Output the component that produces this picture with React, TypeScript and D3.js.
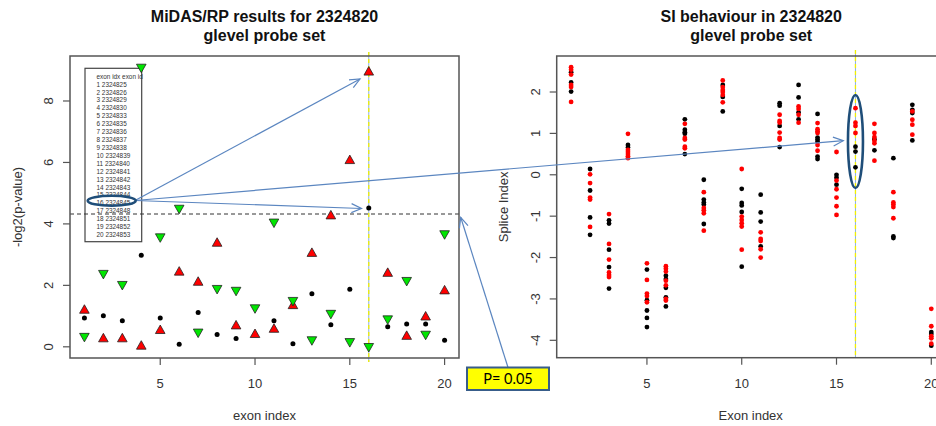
import React from "react";
import * as d3 from "d3";

// ---------- Left panel data (-log2 p-values per exon) ----------
const exons = d3.range(1, 21);
const upRed = [1.2, 0.27, 0.27, 0.03, 0.54, 2.44, 2.11, 3.38, 0.69, 0.41, 0.58, 1.35, 3.05, 4.27, 6.07, 8.95, 2.4, 0.35, 0.98, 1.83];
const downGreen = [0.33, 2.38, 2.02, 9.09, 3.57, 4.5, 0.47, 1.89, 1.83, 1.26, 4.05, 1.5, 0.22, 1.08, 0.16, 0.0, 0.9, 2.15, 0.4, 3.67];
const blackDots: (number | null)[] = [0.94, 1.01, 0.85, 2.98, 0.94, 0.08, 1.12, 0.4, 0.27, null, 0.85, 0.1, 1.73, 0.72, 1.87, 4.52, 0.65, 0.74, 0.74, 0.21];
const legendIds = ["2324825", "2324826", "2324829", "2324830", "2324833", "2324835", "2324836", "2324837", "2324838", "2324839", "2324840", "2324841", "2324842", "2324843", "2324844", "2324845", "2324848", "2324851", "2324852", "2324853"];
const pThreshold = 0.05;
const highlightExon = 16;
const leftYTicks = [0, 2, 4, 6, 8];
const xTicks = [5, 10, 15, 20];

// ---------- Right panel data (splice index per exon) ----------
const siRed: number[][] = [
  [2.6, 2.54, 2.42, 2.17, 2.12, 1.76],
  [0.01, -0.2, -0.55, -0.6, -1.26],
  [-0.95, -1.67, -2.05, -2.36, -2.42, -2.47],
  [0.99, 0.6, 0.55, 0.5, 0.45, 0.4],
  [-2.14, -2.54, -2.87, -2.93, -3.08],
  [-2.21, -2.27, -2.34, -2.56, -2.67, -3.0, -3.04],
  [1.23, 0.89, 0.85, 0.68, 0.64],
  [-0.42, -0.8, -0.86, -0.93, -1.35],
  [2.28, 2.12, 2.05, 2.0, 1.93, 1.75],
  [0.14, -1.01, -1.09, -1.17, -1.25, -1.81],
  [-1.39, -1.55, -1.6, -1.8, -2.0],
  [1.45, 1.3, 1.26, 1.02, 0.89, 0.85],
  [1.65, 1.59, 1.45, 1.26],
  [1.25, 1.1, 1.05, 1.01, 0.72, 0.58],
  [0.55, -0.14, -0.35, -0.55, -0.76, -0.97],
  [1.61, 1.26, 1.18, 1.01],
  [1.23, 1.01, 0.91, 0.82, 0.76, 0.34],
  [-0.42, -0.67, -0.72, -0.78, -1.05],
  [1.53, 1.33, 1.21, 0.97],
  [-3.24, -3.66, -3.9, -3.95, -4.08],
];
const siBlack: number[][] = [
  [2.48, 2.23, 2.01],
  [0.14, -0.38, -1.03, -1.45],
  [-1.1, -1.18, -1.81, -2.23, -2.75],
  [0.72, 0.66],
  [-2.29, -3.03, -3.28, -3.46, -3.68],
  [-2.44, -2.52, -2.73, -2.96, -3.18],
  [1.34, 1.09, 1.03, 0.99, 0.5],
  [-0.12, -0.6, -0.67, -0.72, -1.19],
  [2.17, 1.88, 1.53],
  [-0.34, -0.68, -0.74, -0.9, -2.22],
  [-0.48, -0.91, -1.13, -1.73],
  [1.73, 1.67, 1.18, 0.67],
  [2.17, 1.87, 1.51, 1.34],
  [1.47, 0.9, 0.85, 0.8, 0.44, 0.38],
  [0.0, -0.07, -0.24],
  [0.68, 0.56, 0.18],
  [0.86, 0.59],
  [0.4, -1.49, -1.53],
  [1.69, 1.57, 1.49, 0.83],
  [-3.8, -3.85, -4.13],
];
const rightYTicks = [-4, -3, -2, -1, 0, 1, 2];

const FONT = "'Liberation Sans', Arial, Helvetica, sans-serif";
const AXIS = "#555";
const TXT = "#333";
const ARROW = "#5b86c0";
const DARKBLUE = "#1f4e79";

function arrowHead(x1: number, y1: number, x2: number, y2: number, len = 11, ang = 0.42) {
  const a = Math.atan2(y2 - y1, x2 - x1);
  const p1 = [x2 - len * Math.cos(a - ang), y2 - len * Math.sin(a - ang)];
  const p2 = [x2 - len * Math.cos(a + ang), y2 - len * Math.sin(a + ang)];
  return `M${p1[0]},${p1[1]}L${x2},${y2}L${p2[0]},${p2[1]}`;
}

function Arrow({ x1, y1, x2, y2 }: { x1: number; y1: number; x2: number; y2: number }) {
  return (
    <g stroke={ARROW} strokeWidth={1.2} fill="none">
      <line x1={x1} y1={y1} x2={x2} y2={y2} />
      <path d={arrowHead(x1, y1, x2, y2)} />
    </g>
  );
}

export default function App() {
  // Left panel scales
  const L = { left: 70, right: 459, top: 56, bottom: 358 };
  const xL = d3.scaleLinear().domain([0.24, 20.76]).range([L.left, L.right]);
  const yL = d3.scaleLinear().domain([-0.364, 9.464]).range([L.bottom, L.top]);
  // Right panel scales
  const R = { left: 556.7, right: 945.7, top: 56, bottom: 357.7 };
  const xR = d3.scaleLinear().domain([0.24, 20.76]).range([R.left, R.right]);
  const yR = d3.scaleLinear().domain([-4.42, 2.87]).range([R.bottom, R.top]);

  const tw = 4.8, th1 = 5.2, th2 = 3.3;
  const upPath = (x: number, y: number) => `M${x},${y - th1}L${x + tw},${y + th2}L${x - tw},${y + th2}Z`;
  const downPath = (x: number, y: number) => `M${x},${y + th1}L${x + tw},${y - th2}L${x - tw},${y - th2}Z`;

  const pLine = yL(-Math.log2(pThreshold));
  const legX = 85, legY = 68.3, legW = 56.7, legH = 173.4;
  const rowY = (i: number) => 84.3 + i * 7.92;

  const ellL = { cx: 111.7, cy: 200.7, rx: 24, ry: 5 };
  const ellR = { cx: xR(highlightExon), cy: 141.5, rx: 7.5, ry: 46.5 };
  const start = { x: 135, y: 200.5 };

  return (
    <svg
      width={936}
      height={426}
      style={{ position: "absolute", left: 0, top: 0, background: "#fff" }}
      fontFamily={FONT}
    >
      <rect width={936} height={426} fill="#fff" />

      {/* ---------------- LEFT PANEL ---------------- */}
      <text x={(L.left + L.right) / 2} y={21.5} textAnchor="middle" fontWeight="bold" fontSize={16} fill="#111">
        MiDAS/RP results for 2324820
      </text>
      <text x={(L.left + L.right) / 2} y={40.5} textAnchor="middle" fontWeight="bold" fontSize={16} fill="#111">
        glevel probe set
      </text>

      {/* legend box */}
      <rect x={legX} y={legY} width={legW} height={legH} fill="#fff" stroke="#444" strokeWidth={1.2} />
      <text x={96.5} y={78.5} fontSize={6.4} fill={TXT}>exon idx exon id</text>
      {legendIds.map((id, i) => (
        <text key={id} x={96.5} y={rowY(i) + 2.3} fontSize={6.4} fill={TXT}>
          {`${i + 1} ${id}`}
        </text>
      ))}

      {/* threshold line */}
      <line x1={L.left} x2={L.right} y1={pLine} y2={pLine} stroke="#333" strokeWidth={1} strokeDasharray="4,3" />
      {/* highlight vertical line */}
      <line x1={xL(highlightExon)} x2={xL(highlightExon)} y1={52} y2={362} stroke="#8fb0dc" strokeWidth={1} />
      <line x1={xL(highlightExon)} x2={xL(highlightExon)} y1={52} y2={362} stroke="#f0f000" strokeWidth={1.3} strokeDasharray="4,3" />

      {/* points */}
      {exons.map((e, i) => (
        <g key={`l${e}`}>
          {blackDots[i] != null && <circle cx={xL(e)} cy={yL(blackDots[i] as number)} r={2.5} fill="#000" />}
          <path d={upPath(xL(e), yL(upRed[i]))} fill="#ff0000" stroke="#222" strokeWidth={0.8} />
          <path d={downPath(xL(e), yL(downGreen[i]))} fill="#00e600" stroke="#222" strokeWidth={0.8} />
        </g>
      ))}

      {/* box */}
      <rect x={L.left} y={L.top} width={L.right - L.left} height={L.bottom - L.top} fill="none" stroke={AXIS} strokeWidth={1.5} />
      {/* y axis */}
      {leftYTicks.map((t) => (
        <g key={`ly${t}`}>
          <line x1={L.left - 7} x2={L.left} y1={yL(t)} y2={yL(t)} stroke={AXIS} strokeWidth={1.2} />
          <text
            transform={`translate(${L.left - 17},${yL(t)}) rotate(-90)`}
            textAnchor="middle"
            fontSize={13}
            fill={TXT}
          >
            {t}
          </text>
        </g>
      ))}
      {xTicks.map((t) => (
        <g key={`lx${t}`}>
          <line x1={xL(t)} x2={xL(t)} y1={L.bottom} y2={L.bottom + 7} stroke={AXIS} strokeWidth={1.2} />
          <text x={xL(t)} y={388} textAnchor="middle" fontSize={13} fill={TXT}>{t}</text>
        </g>
      ))}
      <text x={(L.left + L.right) / 2} y={420} textAnchor="middle" fontSize={13} fill={TXT}>exon index</text>
      <text transform={`translate(21.5,${(L.top + L.bottom) / 2}) rotate(-90)`} textAnchor="middle" fontSize={13} fill={TXT}>
        -log2(p-value)
      </text>

      {/* ---------------- RIGHT PANEL ---------------- */}
      <text x={(R.left + R.right) / 2} y={21.5} textAnchor="middle" fontWeight="bold" fontSize={16} fill="#111">
        SI behaviour in 2324820
      </text>
      <text x={(R.left + R.right) / 2} y={40.5} textAnchor="middle" fontWeight="bold" fontSize={16} fill="#111">
        glevel probe set
      </text>

      <line x1={xR(highlightExon)} x2={xR(highlightExon)} y1={50} y2={R.bottom} stroke="#8fb0dc" strokeWidth={1} />
      <line x1={xR(highlightExon)} x2={xR(highlightExon)} y1={50} y2={R.bottom} stroke="#f0f000" strokeWidth={1.3} strokeDasharray="4,3" />

      {exons.map((e, i) => (
        <g key={`r${e}`}>
          {siBlack[i].map((v, j) => (
            <circle key={`b${j}`} cx={xR(e)} cy={yR(v)} r={2.4} fill="#000" />
          ))}
          {siRed[i].map((v, j) => (
            <circle key={`r${j}`} cx={xR(e)} cy={yR(v)} r={2.4} fill="#ff0000" />
          ))}
        </g>
      ))}

      <rect x={R.left} y={R.top} width={R.right - R.left} height={R.bottom - R.top} fill="none" stroke={AXIS} strokeWidth={1.5} />
      {rightYTicks.map((t) => (
        <g key={`ry${t}`}>
          <line x1={R.left - 7} x2={R.left} y1={yR(t)} y2={yR(t)} stroke={AXIS} strokeWidth={1.2} />
          <text
            transform={`translate(${R.left - 17},${yR(t)}) rotate(-90)`}
            textAnchor="middle"
            fontSize={13}
            fill={TXT}
          >
            {t}
          </text>
        </g>
      ))}
      {xTicks.map((t) => (
        <g key={`rx${t}`}>
          <line x1={xR(t)} x2={xR(t)} y1={R.bottom} y2={R.bottom + 7} stroke={AXIS} strokeWidth={1.2} />
          <text x={xR(t)} y={388} textAnchor="middle" fontSize={13} fill={TXT}>{t}</text>
        </g>
      ))}
      <text x={750.7} y={420} textAnchor="middle" fontSize={13} fill={TXT}>Exon index</text>
      <text transform={`translate(508,${(R.top + R.bottom) / 2}) rotate(-90)`} textAnchor="middle" fontSize={13} fill={TXT}>
        Splice Index
      </text>

      {/* ---------------- ANNOTATIONS ---------------- */}
      <Arrow x1={start.x} y1={start.y} x2={360} y2={79} />
      <Arrow x1={start.x} y1={start.y} x2={361.5} y2={208.5} />
      <Arrow x1={start.x} y1={start.y} x2={843.3} y2={140.7} />
      <ellipse cx={ellL.cx} cy={ellL.cy} rx={ellL.rx} ry={ellL.ry} fill="none" stroke={DARKBLUE} strokeWidth={2.6} />
      <ellipse cx={ellR.cx} cy={ellR.cy} rx={ellR.rx} ry={ellR.ry} fill="none" stroke={DARKBLUE} strokeWidth={2.6} />

      <Arrow x1={508} y1={367.5} x2={460.7} y2={217.3} />
      <rect x={467} y={367.5} width={82} height={22.5} fill="#ffff00" stroke="#385d8a" strokeWidth={2} />
      <text x={508} y={384} textAnchor="middle" fontSize={14.5} fill="#000" fontFamily="Lato, 'Open Sans', sans-serif">
        P= 0.05
      </text>
    </svg>
  );
}
